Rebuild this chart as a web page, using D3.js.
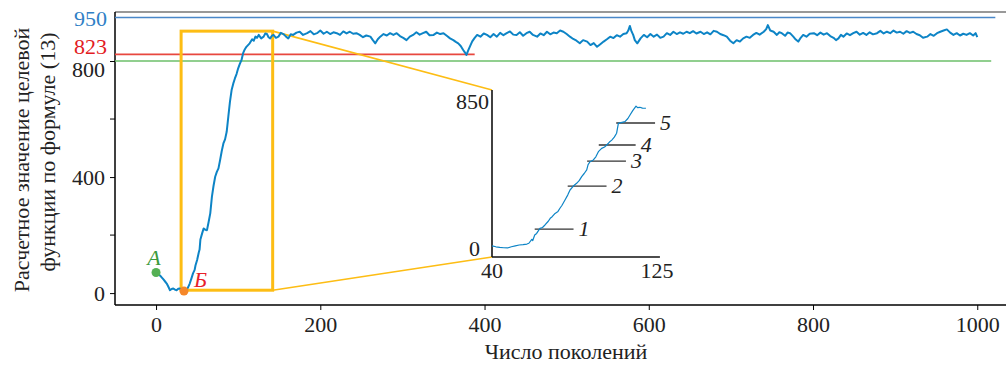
<!DOCTYPE html>
<meta charset="utf-8">
<style>
body { margin: 0; background: #fff; }
svg text { font-family: "Liberation Serif", "Times New Roman", serif; }
.curve { fill: none; stroke: #0d84c6; stroke-linejoin: round; }
</style>
<body>
<script src="https://d3js.org/d3.v7.min.js"></script>
<script>
// main curve: generation number and computed objective value
var generation = [0,2,4,6,9,11,13,15,17,19,21,23,25,27,29,31,33,35,37,39,41,43,45,47,48,50,52,53,54,56,58,60,62,64,66,68,70,72,74,76,78,80,82,84,86,88,90,92,94,96,98,100,102,104,106,108,110,112,114,117,119,121,123,125,128,131,133,135,137,139,141,143,146,149,152,155,158,161,164,167,171,175,179,184,188,192,196,200,204,208,212,216,220,224,228,232,236,240,244,248,252,256,261,264,267,270,273,277,281,285,289,293,297,301,305,309,313,317,321,325,329,333,338,342,346,350,354,358,362,365,368,371,374,376,378,380,382,385,388,391,395,399,403,407,411,415,419,423,427,431,435,439,443,447,451,455,459,464,468,472,476,480,484,488,492,496,500,504,508,512,516,520,525,529,533,537,541,545,549,553,557,561,565,569,573,575,577,579,581,583,586,590,594,598,602,606,610,614,618,622,626,630,634,638,642,646,650,654,658,663,667,671,675,679,683,687,691,695,699,703,707,711,715,719,723,727,731,735,740,743,745,748,752,756,759,762,766,769,772,776,779,782,785,788,792,796,801,805,809,813,817,821,825,828,831,834,837,841,845,849,853,857,861,865,869,873,878,882,886,890,894,898,902,906,910,914,918,922,926,930,934,939,943,947,951,955,959,963,967,971,975,979,983,987,991,995,998,1000];
var fitness = [71,66,62,57,47,40,33,22,10,14,16,12,10,15,16,11,8,9,10,20,33,50,68,80,95,114,140,150,185,205,223,218,217,245,275,332,370,401,418,430,459,490,516,530,556,608,660,700,722,740,755,775,790,803,827,840,849,855,861,875,870,884,880,890,878,884,895,893,882,878,887,890,880,884,897,893,885,878,892,890,898,901,890,896,903,892,896,905,894,901,893,899,896,890,902,895,901,894,896,890,882,888,884,872,861,875,884,893,888,896,890,896,886,880,872,884,890,899,891,896,901,889,890,898,893,896,887,878,872,866,861,852,838,830,821,836,849,868,880,890,884,895,890,882,893,884,897,889,896,902,891,890,899,887,896,901,890,884,895,889,901,892,898,896,905,901,893,884,876,870,861,872,867,855,862,849,858,867,875,884,879,889,884,893,896,905,921,902,890,872,861,878,890,882,893,884,891,880,884,896,890,901,893,899,894,901,896,903,895,901,893,899,892,904,901,893,889,884,870,861,872,867,878,884,880,890,897,891,901,910,924,905,901,890,899,896,887,898,896,884,874,867,880,890,884,894,896,889,898,891,896,886,880,872,878,890,884,895,889,896,901,891,897,890,899,892,896,904,895,901,896,905,898,901,894,903,897,901,893,889,880,884,893,887,896,901,905,909,898,890,896,888,894,890,896,888,896,882];

// zoomed fragment (generations 40..125)
var insetGeneration = [40,42,44,46,48,50,52,54,56,58,59,60.5,61,62,63,64.7,66,67.3,69,70,71,72.5,74,75,76,77.6,79,80.2,81.9,83.6,85,86.2,87.5,88.8,89.5,90.5,92.2,93.5,94.8,96.5,98,99.1,100.5,101.7,103,104.2,105.1,106.5,108.5,110,111.1,112.5,114.2,115,116.2,117.5,119.3];
var insetFitness = [57,52,49,47,46,52,57,61,63,66,70,90,84,112,120,146,150,163,182,197,205,222,232,248,262,290,315,341,361,375,390,409,425,443,470,485,494,510,536,553,560,570,585,595,610,630,680,684,689,705,723,745,768,760,762,758,757];

// numbered level marks inside the inset
var markLabels = ["1", "2", "3", "4", "5"];
var markValues = [142, 361, 488, 570, 682];
var markFrom = [62, 79, 89, 95, 104];
var markTo = [82, 99, 109, 114, 124];

// horizontal reference lines
var refValues = [950, 823, 800];
var refEnds = [1022, 388, 1017];
var refColors = ["#4a88c9", "#e8473f", "#6cbf6a"];

// ticks
var xTicks = [0, 200, 400, 600, 800, 1000];
var yTicks = [0, 400, 800];
var yMinorTicks = [200, 600];
var insetXTicks = [40, 125];
var insetYTicks = [0, 850];

// zoom box and the two marked points
var boxGenerations = [30.5, 142];
var boxValues = [10, 903];
var pointNames = ["А", "Б"];
var pointGenerations = [0, 34];
var pointValues = [71, 7];
var pointColors = ["#55b054", "#f5872a"];
var pointLabelColors = ["#3c9a3c", "#e8202a"];

var width = 1006, height = 367;

var svg = d3.select("body").append("svg")
    .attr("width", width)
    .attr("height", height);

// scales for the main plot
var x = d3.scaleLinear().domain([-50, 1035]).range([115, 1006]);
var y = d3.scaleLinear().domain([-41, 969]).range([305, 12]);

// inset scales
var ix = d3.scaleLinear().domain([40, 125]).range([492, 657]);
var iy = d3.scaleLinear().domain([0, 850]).range([257, 90]);

// frame: top grey line, left and bottom axes
svg.append("line")
    .attr("x1", x(-50)).attr("x2", x(1035))
    .attr("y1", y(969)).attr("y2", y(969))
    .style("stroke", "#777").style("stroke-width", 1.5);

var xAxis = svg.append("g")
    .attr("transform", "translate(0," + y(-41) + ")")
    .call(d3.axisBottom(x).tickValues(xTicks).tickSize(5).tickPadding(6).tickFormat(d3.format("d")));
xAxis.select(".domain").attr("d", "M" + x(-50) + ",0H" + x(1035)).style("stroke-width", 1.5);
xAxis.selectAll("text").style("font-size", "22px").style("fill", "#222");

var yAxis = svg.append("g")
    .attr("transform", "translate(" + x(-50) + ",0)")
    .call(d3.axisLeft(y).tickValues(yTicks).tickSize(5).tickPadding(5).tickFormat(d3.format("d")));
yAxis.select(".domain").attr("d", "M0," + y(969) + "V" + y(-41)).style("stroke-width", 1.5);
yAxis.selectAll("text").style("font-size", "22px").style("fill", "#222");
// nudge 800 label down so that it does not collide with 823
yAxis.selectAll(".tick text").filter(function(d) { return d === 800; }).attr("dy", "0.72em");

yAxis.selectAll(".minor")
    .data(yMinorTicks)
    .enter().append("line")
    .attr("x1", -5).attr("x2", 0)
    .attr("y1", function(d) { return y(d); })
    .attr("y2", function(d) { return y(d); })
    .style("stroke", "#000");

// reference lines
refValues.forEach(function(v, i) {
  svg.append("line")
      .attr("x1", x(-50)).attr("x2", x(refEnds[i]))
      .attr("y1", y(v)).attr("y2", y(v))
      .style("stroke", refColors[i])
      .style("stroke-width", 1.6);
});

// coloured labels 950 and 823
svg.append("text")
    .attr("x", x(-50) - 8).attr("y", y(950))
    .attr("dy", "0.4em")
    .style("text-anchor", "end").style("font-size", "22px")
    .style("fill", "#2f7fc6")
    .text("950");
svg.append("text")
    .attr("x", x(-50) - 8).attr("y", y(823))
    .attr("dy", "-0.02em")
    .style("text-anchor", "end").style("font-size", "22px")
    .style("fill", "#e31b23")
    .text("823");

// zoom box
svg.append("rect")
    .attr("x", x(boxGenerations[0]))
    .attr("y", y(boxValues[1]))
    .attr("width", x(boxGenerations[1]) - x(boxGenerations[0]))
    .attr("height", y(boxValues[0]) - y(boxValues[1]))
    .style("fill", "none")
    .style("stroke", "#fdbd14")
    .style("stroke-width", 3);

// connectors from box to the inset
svg.append("line")
    .attr("x1", x(boxGenerations[1])).attr("y1", y(boxValues[1]))
    .attr("x2", ix(40)).attr("y2", iy(850))
    .style("stroke", "#fdbd14").style("stroke-width", 1.6);
svg.append("line")
    .attr("x1", x(boxGenerations[1])).attr("y1", y(boxValues[0]))
    .attr("x2", ix(40)).attr("y2", iy(0))
    .style("stroke", "#fdbd14").style("stroke-width", 1.6);

// main curve
var line = d3.line()
    .x(function(d, i) { return x(generation[i]); })
    .y(function(d) { return y(d); });

svg.append("path")
    .datum(fitness)
    .attr("class", "curve")
    .style("stroke-width", 2)
    .attr("d", line);

// points A and B
pointNames.forEach(function(n, i) {
  svg.append("circle")
      .attr("cx", x(pointGenerations[i]))
      .attr("cy", y(pointValues[i]))
      .attr("r", 4.5)
      .style("fill", pointColors[i]);
});
svg.append("text")
    .attr("x", x(pointGenerations[0]) - 2).attr("y", y(pointValues[0]) - 8)
    .style("text-anchor", "middle").style("font-size", "22px")
    .style("font-style", "italic").style("fill", pointLabelColors[0])
    .text(pointNames[0]);
svg.append("text")
    .attr("x", x(pointGenerations[1]) + 10).attr("y", y(pointValues[1]) - 4)
    .style("text-anchor", "start").style("font-size", "22px")
    .style("font-style", "italic").style("fill", pointLabelColors[1])
    .text(pointNames[1]);

// inset axes
var inset = svg.append("g");
inset.append("line")
    .attr("x1", ix(40)).attr("x2", ix(40))
    .attr("y1", iy(850)).attr("y2", iy(0))
    .style("stroke", "#111").style("stroke-width", 1.6);
inset.append("line")
    .attr("x1", ix(40)).attr("x2", ix(126.5))
    .attr("y1", iy(0)).attr("y2", iy(0))
    .style("stroke", "#111").style("stroke-width", 1.6);

inset.selectAll(".ixt")
    .data(insetXTicks)
    .enter().append("text")
    .attr("x", function(d) { return ix(d); })
    .attr("y", iy(0) + 21)
    .style("text-anchor", "middle").style("font-size", "22px").style("fill", "#222")
    .text(function(d) { return d; });

inset.selectAll(".iyt")
    .data(insetYTicks)
    .enter().append("text")
    .attr("x", function(d) { return d === 0 ? ix(40) - 12 : ix(40) - 3; })
    .attr("y", function(d) { return d === 0 ? iy(d) - 1 : iy(d) + 19; })
    .style("text-anchor", "end").style("font-size", "22px").style("fill", "#222")
    .text(function(d) { return d; });

// level marks
markValues.forEach(function(v, i) {
  inset.append("line")
      .attr("x1", ix(markFrom[i])).attr("x2", ix(markTo[i]))
      .attr("y1", iy(v)).attr("y2", iy(v))
      .style("stroke", "#333").style("stroke-width", 1.3);
  inset.append("text")
      .attr("x", ix(markTo[i]) + 5).attr("y", iy(v) + 7)
      .style("font-size", "22px").style("font-style", "italic").style("fill", "#222")
      .text(markLabels[i]);
});

var insetLine = d3.line()
    .x(function(d, i) { return ix(insetGeneration[i]); })
    .y(function(d) { return iy(d); });

inset.append("path")
    .datum(insetFitness)
    .attr("class", "curve")
    .style("stroke-width", 1.2)
    .attr("d", insetLine);

// axis titles
svg.append("text")
    .attr("x", 566).attr("y", 359)
    .style("text-anchor", "middle").style("font-size", "22px").style("fill", "#222")
    .text("Число поколений");

svg.append("text")
    .attr("transform", "translate(29,160) rotate(-90)")
    .style("text-anchor", "middle").style("font-size", "22px").style("fill", "#222")
    .text("Расчетное значение целевой");
svg.append("text")
    .attr("transform", "translate(55,152) rotate(-90)")
    .style("text-anchor", "middle").style("font-size", "22px").style("fill", "#222")
    .text("функции по формуле (13)");
</script>
</body>
